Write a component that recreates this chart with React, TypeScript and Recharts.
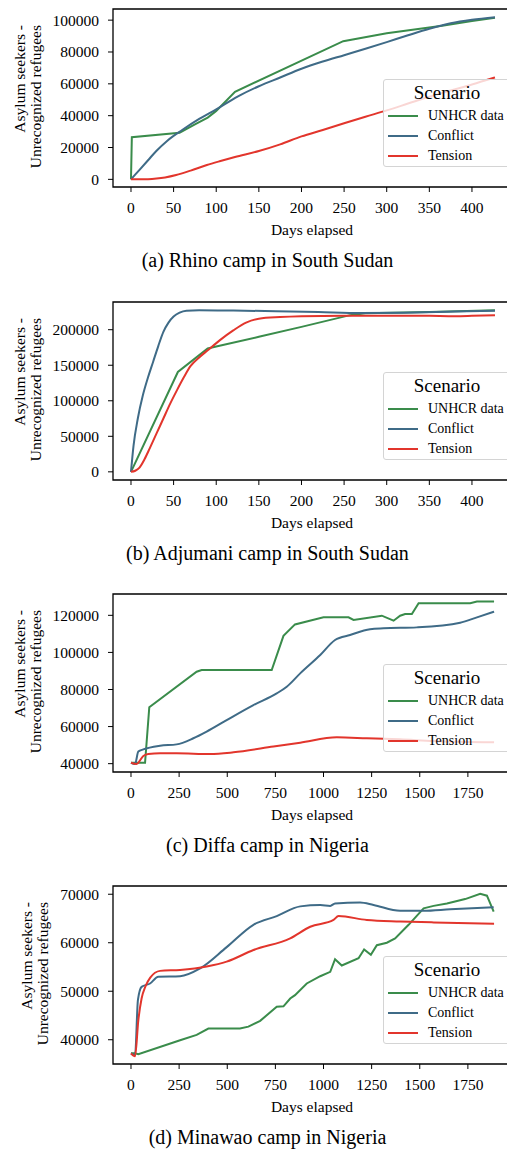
import { LineChart, Line, XAxis, YAxis, ReferenceArea } from 'recharts'

type Pt = [number, number]

// (a) Rhino camp in South Sudan
const rhinoUnhcr: Pt[] = [[0, 0], [1, 26500], [57, 29300], [75, 34500], [90, 38800], [100, 43000], [122, 55000], [249, 86800], [300, 91800], [365, 96500], [400, 99500], [427, 101500]]
const rhinoConflict: Pt[] = [[0, 0], [10, 6000], [20, 12000], [30, 18000], [42, 24000], [60, 31000], [80, 38000], [100, 44000], [125, 52000], [150, 58500], [175, 64000], [200, 69500], [225, 74000], [250, 78000], [275, 82000], [300, 86200], [325, 90500], [350, 94600], [375, 98000], [400, 100200], [427, 101800]]
const rhinoTension: Pt[] = [[0, 0], [10, 0], [20, 100], [30, 500], [40, 1200], [53, 2700], [70, 5500], [89, 9000], [105, 11500], [122, 14000], [150, 17800], [175, 22000], [200, 27000], [225, 31000], [250, 35200], [275, 39300], [300, 43300], [325, 47600], [350, 51900], [375, 55800], [400, 59600], [427, 64000]]

// (b) Adjumani camp in South Sudan
const adjuUnhcr: Pt[] = [[0, 0], [55, 140500], [90, 173500], [100, 176500], [150, 190000], [200, 204000], [257, 220500], [275, 223000], [350, 225000], [427, 227500]]
const adjuConflict: Pt[] = [[0, 0], [3, 37000], [8, 75000], [14, 108000], [20, 133000], [26, 155000], [32, 177000], [38, 197000], [44, 210000], [50, 218500], [57, 224000], [65, 226800], [80, 227500], [120, 227000], [170, 226000], [220, 224800], [270, 223500], [320, 224000], [380, 225500], [427, 226800]]
const adjuTension: Pt[] = [[0, 0], [5, 1500], [10, 6000], [16, 18000], [22, 33000], [30, 54000], [38, 75000], [46, 96000], [54, 115000], [62, 133000], [70, 149000], [80, 161000], [90, 171000], [104, 185000], [120, 199000], [135, 210000], [150, 215500], [175, 217800], [200, 219000], [250, 219800], [300, 219800], [350, 219500], [380, 219000], [400, 219500], [427, 220500]]

// (c) Diffa camp in Nigeria
const diffaUnhcr: Pt[] = [[0, 40500], [73, 40500], [95, 70400], [341, 89600], [367, 90500], [731, 90500], [792, 108900], [852, 115100], [1000, 118900], [1130, 118900], [1156, 117500], [1303, 119800], [1364, 117100], [1398, 119800], [1424, 120700], [1459, 120700], [1494, 126500], [1762, 126500], [1797, 127400], [1886, 127400]]
const diffaConflict: Pt[] = [[0, 40500], [21, 39800], [38, 46500], [64, 47700], [151, 49700], [237, 50400], [324, 53700], [393, 57300], [497, 63500], [636, 71600], [757, 77900], [809, 81500], [879, 88700], [983, 98600], [1060, 106700], [1138, 109400], [1242, 112500], [1312, 113000], [1485, 113500], [1710, 116000], [1797, 118900], [1886, 122000]]
const diffaTension: Pt[] = [[0, 40500], [29, 39800], [64, 44100], [90, 45200], [151, 45600], [237, 45600], [411, 45200], [532, 46100], [740, 49200], [879, 51300], [1069, 54200], [1225, 53700], [1398, 53100], [1572, 52200], [1886, 51500]]

// (d) Minawao camp in Nigeria
const minaUnhcr: Pt[] = [[0, 37200], [21, 37200], [38, 37000], [255, 39900], [341, 41000], [402, 42300], [566, 42300], [610, 42700], [671, 43900], [757, 46800], [792, 46900], [827, 48500], [852, 49200], [913, 51600], [983, 53100], [1035, 54000], [1060, 56600], [1095, 55300], [1182, 56800], [1211, 58600], [1246, 57500], [1277, 59500], [1329, 60000], [1372, 60900], [1442, 63700], [1520, 67100], [1572, 67600], [1641, 68100], [1736, 69000], [1814, 70100], [1849, 69700], [1866, 68100], [1884, 66400]]
const minaConflict: Pt[] = [[0, 37200], [21, 36800], [36, 48200], [55, 50900], [99, 51600], [142, 53000], [255, 53100], [359, 54700], [497, 59100], [636, 63700], [757, 65500], [879, 67500], [983, 67800], [1035, 67600], [1060, 68100], [1190, 68300], [1260, 67800], [1398, 66600], [1520, 66600], [1658, 66900], [1884, 67300]]
const minaTension: Pt[] = [[0, 37200], [21, 36600], [38, 44000], [55, 48500], [75, 51000], [100, 52800], [151, 54200], [255, 54400], [393, 55100], [497, 56100], [636, 58500], [827, 60900], [931, 63300], [1052, 64700], [1078, 65500], [1225, 64700], [1398, 64400], [1572, 64200], [1886, 63900]]

const seriesNames = ['UNHCR data', 'Conflict', 'Tension']
const seriesColors = ['#3a8c4b', '#3f6b87', '#e2352c']

const shortDayTicks = [0, 50, 100, 150, 200, 250, 300, 350, 400]
const longDayTicks = [0, 250, 500, 750, 1000, 1250, 1500, 1750]
const rhinoTicks = [0, 20000, 40000, 60000, 80000, 100000]
const adjuTicks = [0, 50000, 100000, 150000, 200000]
const diffaTicks = [40000, 60000, 80000, 100000, 120000]
const minaTicks = [40000, 50000, 60000, 70000]

const FONT = "'Liberation Serif', 'Times New Roman', serif"

const toRows = (pts: Pt[]) => pts.map(([x, y]) => ({ x, y }))

function YTitle({ c1, c2 }: { c1: number; c2: number }) {
  return (
    <g fontFamily={FONT} fontSize={15.5} fill="#000">
      <text x={c1} y={25} textAnchor="end" dominantBaseline="central" transform={`rotate(-90, ${c1}, 25)`}>
        Asylum seekers -
      </text>
      <text x={c2} y={25} textAnchor="end" dominantBaseline="central" transform={`rotate(-90, ${c2}, 25)`}>
        Unrecognized refugees
      </text>
    </g>
  )
}

interface PanelProps {
  top: number
  xDomain: [number, number]
  xTicks: number[]
  yDomain: [number, number]
  yTicks: number[]
  series: Pt[][]
  caption: string
  labelShift: number
}

function Panel({ top, xDomain, xTicks, yDomain, yTicks, series, caption, labelShift }: PanelProps) {
  const tickStyle = { fill: '#000', fontSize: 15.5, fontFamily: FONT }
  return (
    <div style={{ position: 'absolute', top, left: 0, width: 540, height: 292 }}>
      <LineChart width={518} height={239} margin={{ top: 9, right: 7, bottom: 0, left: 0 }}>
        <XAxis
          type="number"
          dataKey="x"
          domain={xDomain}
          ticks={xTicks}
          allowDataOverflow
          axisLine={false}
          tickLine={{ stroke: '#000' }}
          tickSize={5}
          tickMargin={10}
          tick={tickStyle}
          height={52}
          label={{ value: 'Days elapsed', position: 'insideBottom', offset: 4, fill: '#000', fontSize: 15.5, fontFamily: FONT }}
        />
        <YAxis
          type="number"
          dataKey="y"
          domain={yDomain}
          ticks={yTicks}
          allowDataOverflow
          axisLine={false}
          tickLine={{ stroke: '#000' }}
          tickSize={5}
          tickMargin={9}
          tick={tickStyle}
          width={113}
          label={<YTitle c1={19.5 + labelShift} c2={35.5 + labelShift} />}
        />
        <ReferenceArea
          x1={xDomain[0]}
          x2={xDomain[1]}
          y1={yDomain[0]}
          y2={yDomain[1]}
          fill="none"
          stroke="#000"
          strokeWidth={1.3}
          ifOverflow="visible"
        />
        {series.map((pts, i) => (
          <Line
            key={seriesNames[i]}
            data={toRows(pts)}
            dataKey="y"
            name={seriesNames[i]}
            type={i === 0 ? 'linear' : 'monotone'}
            stroke={seriesColors[i]}
            strokeWidth={2}
            dot={false}
            isAnimationActive={false}
          />
        ))}
      </LineChart>
      <div
        style={{
          position: 'absolute',
          left: 383,
          top: 79,
          width: 128,
          height: 88,
          boxSizing: 'border-box',
          border: '1.5px solid #d4d4d4',
          borderRadius: 3,
          background: 'rgba(255,255,255,0.8)',
          fontFamily: FONT,
        }}
      >
        <div style={{ height: 26, lineHeight: '26px', textAlign: 'center', fontSize: 19 }}>Scenario</div>
        {seriesNames.map((name, i) => (
          <div key={name} style={{ position: 'relative', height: 20, lineHeight: '20px', fontSize: 14 }}>
            <span style={{ position: 'absolute', left: 4, top: 9, width: 30, height: 2, background: seriesColors[i] }} />
            <span style={{ position: 'absolute', left: 44, top: 0, whiteSpace: 'nowrap' }}>{name}</span>
          </div>
        ))}
      </div>
      <div
        style={{
          position: 'absolute',
          top: 248,
          left: 0,
          width: 535,
          textAlign: 'center',
          fontFamily: FONT,
          fontSize: 20,
          lineHeight: '24px',
        }}
      >
        {caption}
      </div>
    </div>
  )
}

export default function App() {
  return (
    <div style={{ position: 'absolute', left: 0, top: 0, width: 507, height: 1149, overflow: 'hidden', background: '#fff' }}>
      <Panel
        top={0}
        xDomain={[-21.1, 445.8]}
        xTicks={shortDayTicks}
        yDomain={[-4800, 107000]}
        yTicks={rhinoTicks}
        series={[rhinoUnhcr, rhinoConflict, rhinoTension]}
        caption="(a) Rhino camp in South Sudan"
        labelShift={0}
      />
      <Panel
        top={293}
        xDomain={[-21.1, 445.8]}
        xTicks={shortDayTicks}
        yDomain={[-11500, 239000]}
        yTicks={adjuTicks}
        series={[adjuUnhcr, adjuConflict, adjuTension]}
        caption="(b) Adjumani camp in South Sudan"
        labelShift={0}
      />
      <Panel
        top={585}
        xDomain={[-93.5, 1974]}
        xTicks={longDayTicks}
        yDomain={[35500, 131500]}
        yTicks={diffaTicks}
        series={[diffaUnhcr, diffaConflict, diffaTension]}
        caption="(c) Diffa camp in Nigeria"
        labelShift={0}
      />
      <Panel
        top={877}
        xDomain={[-93.5, 1974]}
        xTicks={longDayTicks}
        yDomain={[35000, 71700]}
        yTicks={minaTicks}
        series={[minaUnhcr, minaConflict, minaTension]}
        caption="(d) Minawao camp in Nigeria"
        labelShift={7}
      />
    </div>
  )
}
